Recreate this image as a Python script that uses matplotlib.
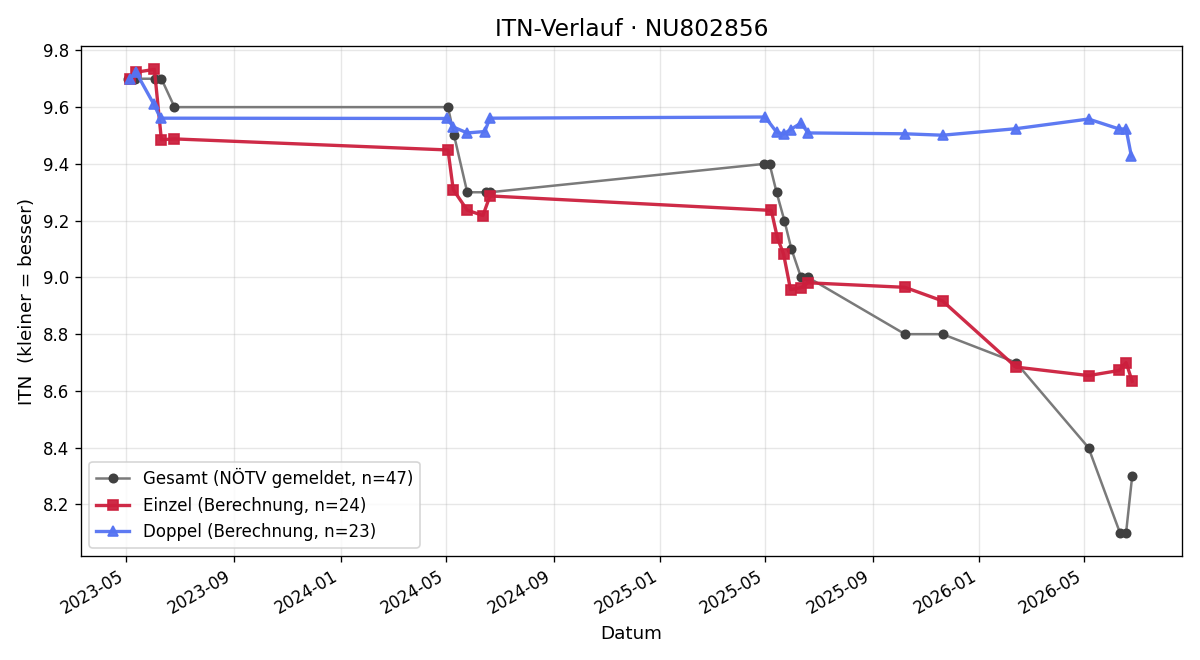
import numpy as np
import matplotlib
matplotlib.use('Agg')
import matplotlib.pyplot as plt
import matplotlib.dates as mdates
import pandas as pd

# Gesamt (NÖTV gemeldet)
gesamt_dates = ['2023-05-03', '2023-05-11', '2023-06-03', '2023-06-10', '2023-06-25',
                '2024-05-03', '2024-05-10', '2024-05-25', '2024-06-16', '2024-06-20',
                '2025-04-30', '2025-05-06', '2025-05-14', '2025-05-23', '2025-05-31',
                '2025-06-11', '2025-06-19', '2025-10-08', '2025-11-20', '2026-02-12',
                '2026-05-06', '2026-06-11', '2026-06-18', '2026-06-25']
gesamt_itn = [9.7, 9.7, 9.7, 9.7, 9.6,
              9.6, 9.5, 9.3, 9.3, 9.3,
              9.4, 9.4, 9.3, 9.2, 9.1,
              9.0, 9.0, 8.8, 8.8, 8.7,
              8.4, 8.1, 8.1, 8.3]

# Einzel (Berechnung)
einzel_dates = ['2023-05-05', '2023-05-12', '2023-06-02', '2023-06-10', '2023-06-25',
                '2024-05-03', '2024-05-09', '2024-05-25', '2024-06-12', '2024-06-20',
                '2025-05-08', '2025-05-15', '2025-05-22', '2025-05-30', '2025-06-11',
                '2025-06-19', '2025-10-08', '2025-11-20', '2026-02-12', '2026-05-06',
                '2026-06-10', '2026-06-18', '2026-06-25']
einzel_itn = [9.698, 9.723, 9.733, 9.485, 9.488,
              9.449, 9.309, 9.237, 9.218, 9.287,
              9.236, 9.139, 9.083, 8.957, 8.964,
              8.981, 8.965, 8.917, 8.684, 8.654,
              8.672, 8.700, 8.634]

# Doppel (Berechnung)
doppel_dates = ['2023-05-05', '2023-05-12', '2023-06-01', '2023-06-09',
                '2024-05-02', '2024-05-09', '2024-05-25', '2024-06-14', '2024-06-20',
                '2025-05-01', '2025-05-14', '2025-05-22', '2025-05-30', '2025-06-11',
                '2025-06-19', '2025-10-08', '2025-11-20', '2026-02-12', '2026-05-06',
                '2026-06-10', '2026-06-18', '2026-06-24']
doppel_itn = [9.698, 9.723, 9.612, 9.561,
              9.560, 9.530, 9.509, 9.514, 9.561,
              9.565, 9.512, 9.505, 9.521, 9.544,
              9.509, 9.506, 9.501, 9.524, 9.558,
              9.523, 9.523, 9.428]

g_d = pd.to_datetime(gesamt_dates)
e_d = pd.to_datetime(einzel_dates)
d_d = pd.to_datetime(doppel_dates)

fig, ax = plt.subplots(figsize=(10, 5.5), dpi=120)
ax.plot(g_d, gesamt_itn, '-o', color='#7a7a7a', mfc='#404040', mec='#404040',
        lw=1.5, ms=5, label='Gesamt (NÖTV gemeldet, n=47)')
ax.plot(e_d, einzel_itn, '-s', color='#cc1f3d', lw=2, ms=6, alpha=0.95,
        label='Einzel (Berechnung, n=24)')
ax.plot(d_d, doppel_itn, '-^', color='#5573f2', lw=2, ms=6, alpha=0.95,
        label='Doppel (Berechnung, n=23)')

ax.set_xlim(pd.Timestamp('2023-03-10'), pd.Timestamp('2026-08-21'))
ax.xaxis.set_major_locator(mdates.MonthLocator(bymonth=[1, 5, 9]))
ax.xaxis.set_major_formatter(mdates.DateFormatter('%Y-%m'))
ax.grid(True, alpha=0.3)
ax.set_title('ITN-Verlauf · NU802856', fontsize=14)
ax.set_xlabel('Datum', fontsize=11)
ax.set_ylabel('ITN  (kleiner = besser)', fontsize=11)
ax.legend(loc='lower left', fontsize=10)
fig.autofmt_xdate()
fig.subplots_adjust(left=0.0675, right=0.985, top=0.930, bottom=0.1576)
fig.savefig('out.png', dpi=120)
